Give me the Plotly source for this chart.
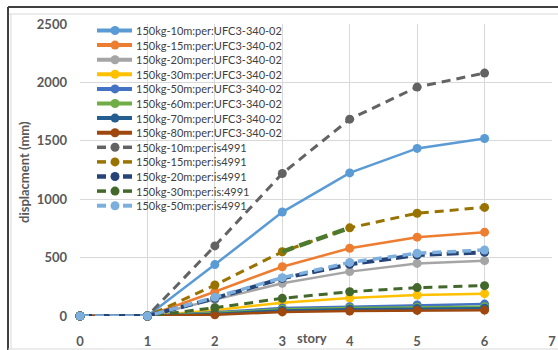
import plotly.graph_objects as go

stories = [0, 1, 2, 3, 4, 5, 6]

names = [
    "150kg-10m:per:UFC3-340-02",
    "150kg-15m:per:UFC3-340-02",
    "150kg-20m:per:UFC3-340-02",
    "150kg-30m:per:UFC3-340-02",
    "150kg-50m:per:UFC3-340-02",
    "150kg-60m:per:UFC3-340-02",
    "150kg-70m:per:UFC3-340-02",
    "150kg-80m:per:UFC3-340-02",
    "150kg-10m:per:is4991",
    "150kg-15m:per:is4991",
    "150kg-20m:per:is4991",
    "150kg-30m:per:is:4991",
    "150kg-50m:per:is4991",
]

ufc_10 = [0, 0, 440, 890, 1225, 1435, 1520]
ufc_15 = [0, 0, 208, 422, 580, 675, 718]
ufc_20 = [0, 0, 140, 280, 380, 450, 474]
ufc_30 = [0, 0, 50, 114, 154, 180, 191]
ufc_50 = [0, 0, 32, 68, 80, 94, 102]
ufc_60 = [0, 0, 25, 58, 68, 75, 80]
ufc_70 = [0, 0, 18, 48, 58, 64, 67]
ufc_80 = [0, 0, 10, 35, 42, 48, 50]
is_10 = [0, 0, 600, 1220, 1685, 1960, 2080]
is_15 = [0, 0, 265, 550, 755, 880, 930]
is_20 = [0, 0, 152, 322, 442, 522, 545]
is_30 = [0, 0, 71, 151, 208, 243, 260]
is_50 = [0, 0, 160, 328, 459, 537, 565]

extra_x = [3, 4]
extra_y = [550, 755]

series = [ufc_10, ufc_15, ufc_20, ufc_30, ufc_50, ufc_60, ufc_70, ufc_80,
          is_10, is_15, is_20, is_30, is_50]
colors = ["#5B9BD5", "#ED7D31", "#A5A5A5", "#FFC000", "#4472C4", "#70AD47",
          "#255E91", "#9E480E", "#636363", "#997300", "#264478", "#43682B",
          "#7CAFDD"]
widths = [2.5, 2.5, 2.5, 2.5, 2.5, 2.5, 2.5, 2.5, 3, 3, 4, 3, 3.5]
dashes = ["solid"] * 8 + ["9px,6px", "9px,6px", "12px,5px", "9px,6px", "9px,6px"]

fig = go.Figure()
for name, ys, c, w, d in zip(names, series, colors, widths, dashes):
    fig.add_trace(go.Scatter(
        x=stories, y=ys, name=name, mode="lines+markers", cliponaxis=False,
        line=dict(color=c, width=w, dash=d),
        marker=dict(color=c, size=9), showlegend=False))

fig.add_trace(go.Scatter(x=extra_x, y=extra_y, mode="lines", showlegend=False,
                         line=dict(color="#4E7A2E", width=4.5, dash="12px,6px")))

# pixel -> paper helpers (plot area: x 80..552, y 24..316)
L, R, T, B = 80, 552, 24, 316
def px(x):
    return (x - L) / (R - L)
def py(y):
    return (B - y) / (B - T)

shapes = []
annotations = []
# manual legend
for i, (name, c, w, d) in enumerate(zip(names, colors, widths, dashes)):
    cy = 30.5 + 14.6 * i
    if d == "solid":
        shapes.append(dict(type="line", xref="paper", yref="paper",
                           x0=px(97), x1=px(132), y0=py(cy), y1=py(cy),
                           line=dict(color=c, width=4)))
    else:
        for a, b in [(97, 106), (123, 132)]:
            shapes.append(dict(type="line", xref="paper", yref="paper",
                               x0=px(a), x1=px(b), y0=py(cy), y1=py(cy),
                               line=dict(color=c, width=w + 0.5)))
    shapes.append(dict(type="circle", xref="paper", yref="paper",
                       x0=px(110.5), x1=px(119.5), y0=py(cy - 4.5), y1=py(cy + 4.5),
                       fillcolor=c, line=dict(color=c, width=0)))
    annotations.append(dict(text=name, xref="paper", yref="paper",
                            x=px(134), y=py(cy), xanchor="left", yanchor="middle",
                            showarrow=False,
                            font=dict(family="Lato", size=11, color="#404040")))

# outer frame
shapes += [
    dict(type="line", xref="paper", yref="paper", x0=px(8), x1=px(558),
         y0=py(7), y1=py(7), line=dict(color="#404040", width=2)),
    dict(type="line", xref="paper", yref="paper", x0=px(8), x1=px(558),
         y0=py(14), y1=py(14), line=dict(color="#D9D9D9", width=1)),
    dict(type="line", xref="paper", yref="paper", x0=px(8), x1=px(8),
         y0=py(7), y1=py(350), line=dict(color="#404040", width=2)),
    dict(type="line", xref="paper", yref="paper", x0=px(11), x1=px(11),
         y0=py(14), y1=py(349), line=dict(color="#D9D9D9", width=1)),
    dict(type="line", xref="paper", yref="paper", x0=px(8), x1=px(558),
         y0=py(349), y1=py(349), line=dict(color="#D9D9D9", width=1)),
]

annotations.append(dict(text="<b>story</b>", xref="paper", yref="paper",
                        x=px(312), y=py(338), xanchor="center", yanchor="middle",
                        showarrow=False,
                        font=dict(family="Lato", size=13, color="#595959")))
annotations.append(dict(text="<b>displacment (mm)</b>", xref="paper", yref="paper",
                        x=px(24), y=py(172), xanchor="center", yanchor="middle",
                        textangle=-90, showarrow=False,
                        font=dict(family="Lato", size=13, color="#595959")))

fig.update_layout(
    width=558, height=350,
    margin=dict(l=L, r=558 - R, t=T, b=350 - B),
    paper_bgcolor="white", plot_bgcolor="white",
    shapes=shapes, annotations=annotations,
    showlegend=False,
    xaxis=dict(range=[0, 7], dtick=1, tick0=0, showgrid=True, gridcolor="#D9D9D9",
               gridwidth=1, zeroline=False, showline=False, ticks="",
               ticklabelstandoff=16, automargin=False,
               tickfont=dict(family="Lato", size=13, color="#595959", weight="bold")),
    yaxis=dict(range=[0, 2500], dtick=500, tick0=0, showgrid=True, gridcolor="#D9D9D9",
               gridwidth=1, zeroline=False, showline=False, ticks="",
               ticklabelstandoff=12, automargin=False,
               tickfont=dict(family="Lato", size=13, color="#595959", weight="bold")),
)

fig.write_html("out.html")
